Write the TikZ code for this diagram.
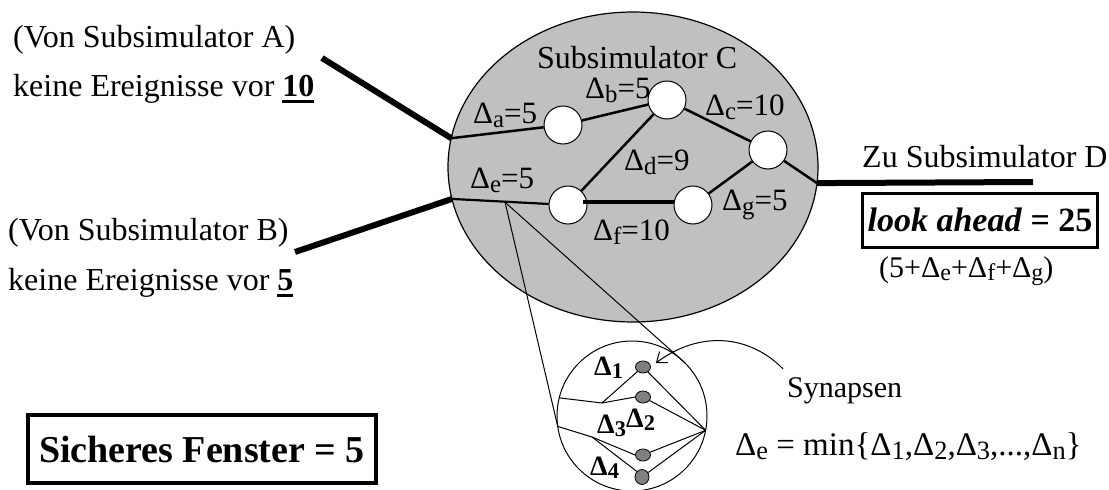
\documentclass[tikz,border=0pt]{standalone}
\usepackage{fontspec}
\setmainfont{Liberation Serif}
\usetikzlibrary{shapes.geometric,arrows.meta,calc}
\definecolor{cgray}{RGB}{192,192,192}
\definecolor{synfill}{RGB}{128,128,128}
\newcommand{\myul}[1]{\setbox0=\hbox{#1}\rlap{\rule[-7pt]{\wd0}{2.8pt}}\box0}
\newcommand{\D}[1]{Δ\raisebox{-0.13em}{\scalebox{0.8}{#1}}}
\begin{document}
\begin{tikzpicture}[x=1pt,y=-1pt,
  txt/.style={anchor=base west,inner sep=0pt,font=\fontsize{32}{36}\selectfont},
  lbl/.style={anchor=base west,inner sep=0pt,font=\fontsize{31}{36}\selectfont},
  smalltxt/.style={anchor=base west,inner sep=0pt,font=\fontsize{30}{34}\selectfont},
  dlbl/.style={anchor=base west,inner sep=0pt,font=\fontsize{28}{32}\selectfont\bfseries},
  ext/.style={line width=6pt},
  wire/.style={line width=2.5pt},
  thinl/.style={line width=1pt},
  proc/.style={circle,draw,fill=white,line width=1pt,minimum size=38pt,inner sep=0pt},
  syn/.style={ellipse,draw,fill=synfill,line width=0.8pt,minimum width=15pt,minimum height=12pt,inner sep=0pt},
]
\useasboundingbox (0,0) rectangle (1109,490);

% big ellipse
\node[ellipse,draw,fill=cgray,line width=1.2pt,minimum width=370pt,minimum height=310pt,inner sep=0pt,outer sep=0pt] (C) at (633,167) {};

% processes
\node[proc] (a) at (563,125) {};
\node[proc] (b) at (667,100) {};
\node[proc] (c) at (768,150) {};
\node[proc] (e) at (568,205) {};
\node[proc] (g) at (693,205) {};

% external ends
\coordinate (Aend) at (322,58);
\coordinate (Bend) at (295,252);
\coordinate (Dend) at (1033,182);

\draw[ext] (Aend) -- (C.171);
\draw[ext] (Bend) -- (C.190);
\draw[ext] (C.-5) -- (Dend);

% internal wires
\draw[wire] (C.171) -- (a);
\draw[wire] (a) -- (b);
\draw[wire] (b) -- (c);
\draw[wire] (b) -- (e);
\draw[wire] (g) -- (c);
\draw[wire] (c) -- (C.-5);
\draw[line width=2.2pt] (C.190) -- (e);
\draw[line width=4pt] ([shift={(15,-3)}]e.center) -- ([shift={(0,-3)}]g.west);

% texts
\node[txt] (tA1) at (13,47) {(Von Subsimulator A)};
\node[txt] (tA2) at (13,96) {keine Ereignisse vor \myul{\textbf{10}}};
\node[txt] (tB1) at (8,240) {(Von Subsimulator B)};
\node[txt] (tB2) at (8,290) {keine Ereignisse vor \myul{\textbf{5}}};
\node[txt] (tC) at (537,68) {Subsimulator C};
\node[lbl] (la) at (473,123) {\D{a}=5};
\node[lbl] (lb) at (585,98) {\D{b}=5};
\node[lbl] (lc) at (705,115) {\D{c}=10};
\node[lbl] (ld) at (624,170) {\D{d}=9};
\node[lbl] (le) at (470,188) {\D{e}=5};
\node[lbl] (lg) at (722,210) {\D{g}=5};
\node[lbl] (lf) at (593,240) {\D{f}=10};
\node[txt] (tD) at (862,167) {Zu Subsimulator D};

\node[draw,line width=3pt,minimum width=235pt,minimum height=54pt,inner sep=0pt,font=\fontsize{34}{40}\selectfont\bfseries] (lookahead) at (980,220) {\textit{look ahead} = 25};
\node[anchor=base west,inner sep=0pt,font=\fontsize{30}{34}\selectfont] (sum) at (879,277) {(5+\D{e}+\D{f}+\D{g})};

\node[draw,line width=3.5pt,minimum width=348pt,minimum height=68pt,inner sep=0pt,font=\fontsize{38}{44}\selectfont\bfseries] (win) at (202,449) {Sicheres Fenster = 5};

% zoom circle
\node[circle,draw,line width=1pt,minimum size=150pt,inner sep=0pt,outer sep=0pt] (Z) at (632,416) {};
\coordinate (P) at ($(C.190)!0.55!(e.west)$);
\draw[thinl] (P) -- (Z.188);
\draw[thinl] (P) -- (Z.45);

\node[syn] (s1) at (643,367) {};
\node[syn] (s2) at (643,397) {};
\node[syn] (s3) at (643,455) {};
\node[syn,minimum width=14pt,minimum height=15pt] (s4) at (642,477) {};

\coordinate (j1) at (602,403);
\coordinate (j2) at (592,437);
\coordinate (cv) at (Z.-11);
\draw[thinl] (Z.166) -- (j1) -- (s2.west);
\draw[thinl] (j1) -- (s1.south west);
\draw[thinl] (Z.188) -- (j2) -- (s3.west);
\draw[thinl] (j2) -- (s4.north west);
\draw[thinl] (s1) -- (cv);
\draw[thinl] (s2) -- (cv);
\draw[thinl] (s3) -- (cv);
\draw[thinl] (s4) -- (cv);

\node[dlbl] (d1) at (594,375) {\D{1}};
\node[dlbl] (d2) at (626,427) {\D{2}};
\node[dlbl] (d3) at (597,433) {\D{3}};
\node[dlbl] (d4) at (590,475) {\D{4}};

\node[smalltxt] (synl) at (787,397) {Synapsen};
\node[anchor=base west,inner sep=0pt,font=\fontsize{33}{38}\selectfont] (mineq) at (735,455) {\D{e} = min\{\D{1},\D{2},\D{3},...,\D{n}\}};
\draw[thinl,-{Straight Barb[length=9pt,width=14pt]}] ([shift={(-4,-8)}]synl.north west) .. controls (750,335) and (700,330) .. ([shift={(5,-4)}]s1.east);
\end{tikzpicture}
\end{document}
